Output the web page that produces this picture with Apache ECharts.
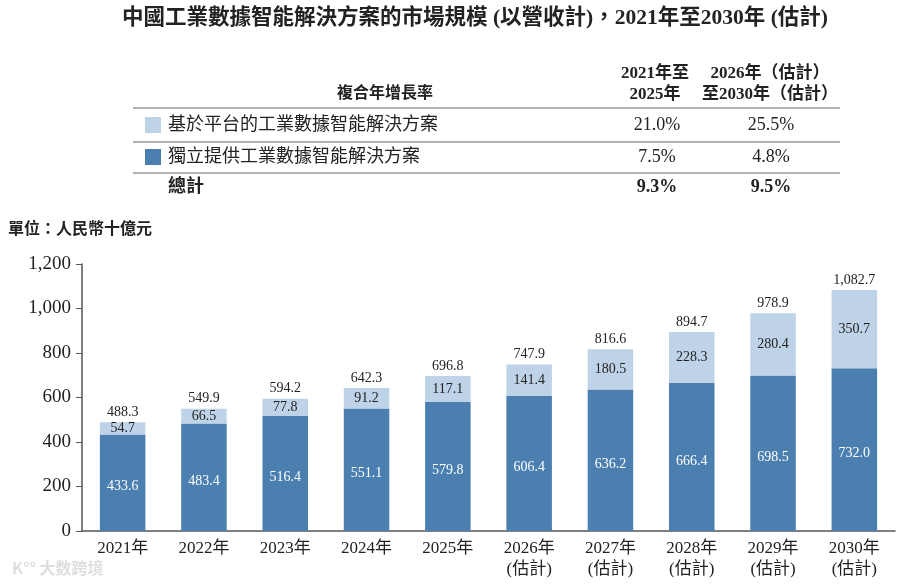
<!DOCTYPE html>
<html><head><meta charset="utf-8">
<script src="https://cdn.jsdelivr.net/npm/echarts@6/dist/echarts.min.js"></script>
<style>html,body{margin:0;padding:0;background:#fff}#c{width:900px;height:585px}</style>
</head><body><div id="c"></div>
<script>
var categories = ['2021年','2022年','2023年','2024年','2025年','2026年\n(估計)','2027年\n(估計)','2028年\n(估計)','2029年\n(估計)','2030年\n(估計)'];
var independent = [433.6,483.4,516.4,551.1,579.8,606.4,636.2,666.4,698.5,732.0];
var platform = [54.7,66.5,77.8,91.2,117.1,141.4,180.5,228.3,280.4,350.7];
var totals = [488.3,549.9,594.2,642.3,696.8,747.9,816.6,894.7,978.9,1082.7];
var yTicks = [0,200,400,600,800,1000,1200];
var tableRows = [
  {name:'基於平台的工業數據智能解決方案', a:'21.0%', b:'25.5%'},
  {name:'獨立提供工業數據智能解決方案', a:'7.5%', b:'4.8%'},
  {name:'總計', a:'9.3%', b:'9.5%'}
];
var DARK = '#4a7fb0', LIGHT = '#bfd3e8';
var SERIF = '"Liberation Serif","Noto Sans CJK TC",serif';

var chart = echarts.init(document.getElementById('c'));
function fmt(v){ return v.toLocaleString('en-US',{minimumFractionDigits:1,maximumFractionDigits:1}); }

var g = [];
g.push({type:'text', x:475, y:18, style:{text:'中國工業數據智能解決方案的市場規模 (以營收計)，2021年至2030年 (估計)', font:'bold 21.5px '+SERIF, fill:'#222', align:'center', verticalAlign:'middle'}});
g.push({type:'text', x:385, y:94, style:{text:'複合年增長率', font:'bold 16px '+SERIF, fill:'#222', align:'center', verticalAlign:'middle'}});
g.push({type:'text', x:655, y:84, style:{text:'2021年至\n2025年', font:'bold 17px '+SERIF, fill:'#222', align:'center', verticalAlign:'middle', lineHeight:21}});
g.push({type:'text', x:770, y:84, style:{text:'2026年（估計）\n至2030年（估計）', font:'bold 17px '+SERIF, fill:'#222', align:'center', verticalAlign:'middle', lineHeight:21}});
[108,142,173].forEach(function(y){
  g.push({type:'line', shape:{x1:133,y1:y,x2:840,y2:y}, style:{stroke:'#666', lineWidth:1.2}});
});
var rowY = [125,157,187];
tableRows.forEach(function(r,i){
  var bold = i===2 ? 'bold ' : '';
  if(i<2){ g.push({type:'rect', shape:{x:145,y:rowY[i]-8,width:16,height:16}, style:{fill: i===0?LIGHT:DARK}}); }
  g.push({type:'text', x:168, y:rowY[i], style:{text:r.name, font:bold+'18px '+SERIF, fill:'#222', verticalAlign:'middle'}});
  g.push({type:'text', x:657, y:rowY[i], style:{text:r.a, font:bold+'18px '+SERIF, fill:'#222', align:'center', verticalAlign:'middle'}});
  g.push({type:'text', x:771, y:rowY[i], style:{text:r.b, font:bold+'18px '+SERIF, fill:'#222', align:'center', verticalAlign:'middle'}});
});
g.push({type:'text', x:8, y:230, style:{text:'單位：人民幣十億元', font:'bold 16px '+SERIF, fill:'#222', verticalAlign:'middle'}});
g.push({type:'text', x:12, y:568, style:{text:'K°° 大数跨境', font:'bold 16px "Noto Sans CJK SC",sans-serif', fill:'rgba(200,200,200,0.6)', verticalAlign:'middle'}});

chart.setOption({
  animation:false,
  grid:{left:82, right:5, top:264, bottom:54},
  graphic:g,
  xAxis:{type:'category', data:categories,
    axisLine:{lineStyle:{color:'#555', width:1.5}}, axisTick:{show:false},
    axisLabel:{color:'#222', fontFamily:SERIF, fontSize:17, lineHeight:21, margin:7, interval:0}},
  yAxis:{type:'value', min:0, max:1200, interval:200,
    axisLine:{show:true, lineStyle:{color:'#555', width:1.5}},
    axisTick:{show:true, length:6, lineStyle:{color:'#555'}},
    splitLine:{show:false},
    axisLabel:{color:'#222', fontFamily:SERIF, fontSize:19, margin:11, formatter:function(v){return v.toLocaleString('en-US');}}},
  series:[
    {type:'bar', stack:'s', data:independent, barWidth:'56%', itemStyle:{color:DARK},
      label:{show:true, position:'inside', offset:[0,4], color:'#fff', fontFamily:SERIF, fontSize:14, formatter:function(p){return fmt(p.value);}}},
    {type:'bar', stack:'s', data:platform, itemStyle:{color:LIGHT},
      label:{show:true, position:'inside', color:'#222', fontFamily:SERIF, fontSize:14, formatter:function(p){return fmt(p.value);}}},
    {type:'bar', stack:'s', data:totals.map(function(){return 0;}), itemStyle:{color:'transparent'},
      label:{show:true, position:'top', distance:3, color:'#222', fontFamily:SERIF, fontSize:14, formatter:function(p){return fmt(totals[p.dataIndex]);}}}
  ]
});
</script></body></html>
